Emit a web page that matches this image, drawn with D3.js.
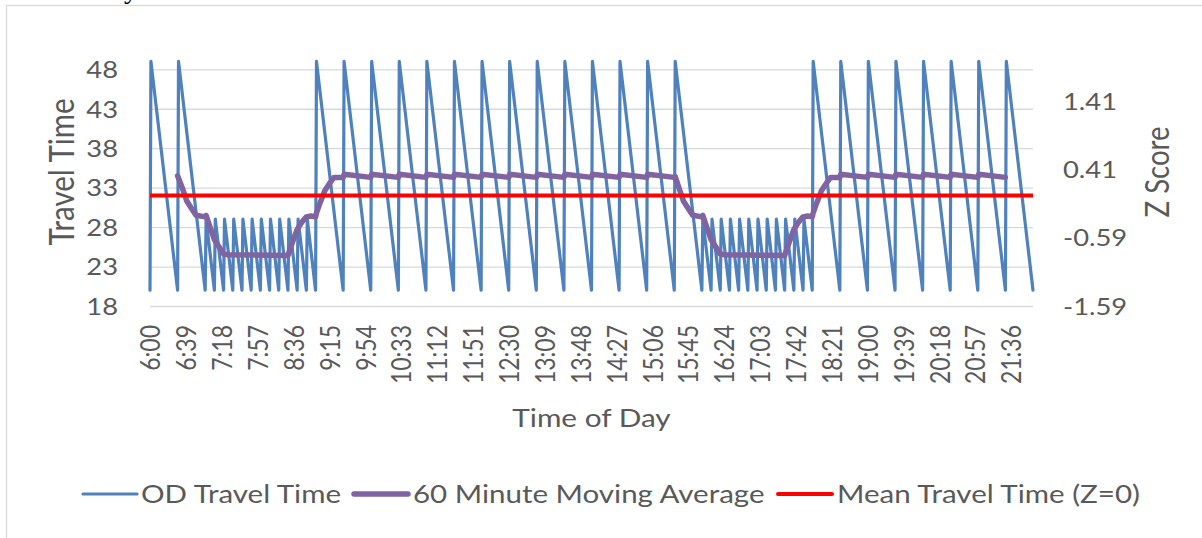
<!DOCTYPE html>
<html>
<head>
<meta charset="utf-8">
<script src="https://cdn.jsdelivr.net/npm/d3@7"></script>
<style>
  html, body { margin: 0; padding: 0; background: #ffffff; }
  svg { display: block; }
  text { font-family: Lato, "Open Sans", sans-serif; fill: #595959; }
</style>
</head>
<body>
<svg id="chart" width="1202" height="538"></svg>
<script>
// OD travel time (minutes) at each turning point of the sawtooth, by time of day
const odTimes = [
  "6:00","6:01","6:30","6:31","7:00",
  "7:01","7:10","7:11","7:20","7:21","7:30","7:31","7:40","7:41","7:50","7:51","8:00",
  "8:01","8:10","8:11","8:20","8:21","8:30","8:31","8:40","8:41","8:50","8:51","9:00",
  "9:01","9:30","9:31","10:00","10:01","10:30","10:31","11:00","11:01","11:30","11:31","12:00",
  "12:01","12:30","12:31","13:00","13:01","13:30","13:31","14:00","14:01","14:30","14:31","15:00",
  "15:01","15:30","15:31","16:00",
  "16:01","16:10","16:11","16:20","16:21","16:30","16:31","16:40","16:41","16:50","16:51","17:00",
  "17:01","17:10","17:11","17:20","17:21","17:30","17:31","17:40","17:41","17:50","17:51","18:00",
  "18:01","18:30","18:31","19:00","19:01","19:30","19:31","20:00","20:01","20:30","20:31","21:00",
  "21:01","21:30","21:31","22:00"
];
const odValues = [
  20,49,20,49,20,
  29,20,29,20,29,20,29,20,29,20,29,20,
  29,20,29,20,29,20,29,20,29,20,29,20,
  49,20,49,20,49,20,49,20,49,20,49,20,
  49,20,49,20,49,20,49,20,49,20,49,20,
  49,20,49,20,
  29,20,29,20,29,20,29,20,29,20,29,20,
  29,20,29,20,29,20,29,20,29,20,29,20,
  49,20,49,20,49,20,49,20,49,20,49,20,
  49,20,49,20
];

// 60 minute moving average of the travel time
const maTimes = [
  "6:30","6:35","6:40","6:45","6:50","7:00","7:01","7:05","7:10","7:15","7:20","7:25",
  "8:30","8:35","8:40","8:45","8:50","8:55","9:00","9:01","9:05","9:10","9:15","9:20",
  "9:30","9:31","10:00","10:01","10:30","10:31","11:00","11:01","11:30","11:31","12:00",
  "12:01","12:30","12:31","13:00","13:01","13:30","13:31","14:00","14:01","14:30","14:31",
  "15:00","15:01","15:30","15:31","15:35","15:40","15:45","15:50","16:00","16:01","16:05",
  "16:10","16:15","16:20","16:25",
  "17:30","17:35","17:40","17:45","17:50","17:55","18:00","18:01","18:05","18:10","18:15","18:20",
  "18:30","18:31","19:00","19:01","19:30","19:31","20:00","20:01","20:30","20:31","21:00",
  "21:01","21:30"
];
const maValues = [
  34.5,33.0,31.3,30.4,29.5,29.3,29.5,28.1,26.4,25.5,24.6,24.5,
  24.4,26.1,27.7,28.6,29.3,29.4,29.3,29.8,31.1,32.6,33.5,34.3,
  34.3,34.7,34.3,34.7,34.3,34.7,34.3,34.7,34.3,34.7,34.3,
  34.7,34.3,34.7,34.3,34.7,34.3,34.7,34.3,34.7,34.3,34.7,
  34.3,34.7,34.3,34.4,33.0,31.3,30.4,29.5,29.3,29.5,28.1,
  26.4,25.5,24.6,24.5,
  24.4,26.1,27.7,28.6,29.3,29.4,29.3,29.8,31.1,32.6,33.5,34.3,
  34.3,34.7,34.3,34.7,34.3,34.7,34.3,34.7,34.3,34.7,34.3,
  34.7,34.3
];

const meanTravelTime = 32;

const travelTicks = [18, 23, 28, 33, 38, 43, 48];
const zTicks = [-1.59, -0.59, 0.41, 1.41];
const timeTickLabels = [
  "6:00","6:39","7:18","7:57","8:36","9:15","9:54","10:33","11:12","11:51","12:30","13:09",
  "13:48","14:27","15:06","15:45","16:24","17:03","17:42","18:21","19:00","19:39","20:18",
  "20:57","21:36"
];
const seriesNames = ["OD Travel Time", "60 Minute Moving Average", "Mean Travel Time (Z=0)"];
const seriesColors = ["#4F81BD", "#8064A2", "#FF0000"];
const seriesWidths = [3.2, 5.5, 4];

// minutes after 6:00
const minutesOf = s => { const [h, m] = s.split(":").map(Number); return h * 60 + m - 360; };

const svg = d3.select("#chart");
const textStretch = 1.19;
const ink = "#595959";
const gridColor = "#D9D9D9";

const plot = { left: 150, right: 1033, top: 61.4, bottom: 306 };

const x = d3.scaleLinear().domain([0, 960]).range([plot.left, plot.right]);
const y = d3.scaleLinear().domain([18, 49]).range([plot.bottom, plot.top]);
const z = d3.scaleLinear().domain([-1.59, 1.99]).range([plot.bottom, plot.top]);

// tail of the caption line sitting just above the chart
svg.append("text")
  .attr("x", 124).attr("y", -2)
  .style("font-family", "'Liberation Serif', serif").style("font-size", "28px")
  .style("fill", "#000000").text("y");

// chart frame (runs past the right and bottom edges)
svg.append("rect")
  .attr("x", 6.5).attr("y", 5.5).attr("width", 1210).attr("height", 560)
  .attr("fill", "none").attr("stroke", gridColor).attr("stroke-width", 1.3);

// horizontal gridlines
const grid = svg.append("g").attr("transform", `translate(${plot.left},0)`)
  .call(d3.axisLeft(y).tickValues(travelTicks).tickSize(-(plot.right - plot.left)).tickFormat(""));
grid.select(".domain").remove();
grid.selectAll("line").attr("stroke", gridColor).attr("stroke-width", 1.3);

// left axis labels
const yAxis = svg.append("g").attr("transform", `translate(${plot.left},0)`)
  .call(d3.axisLeft(y).tickValues(travelTicks).tickSize(0).tickPadding(32));
yAxis.select(".domain").remove();
yAxis.selectAll("text")
  .attr("x", 0).attr("dy", "0.36em")
  .attr("transform", `translate(-32,0) scale(${textStretch},1)`)
  .style("font-size", "23px").style("font-family", "Lato").attr("fill", ink);

// right axis labels (Z score)
const zAxis = svg.append("g").attr("transform", `translate(${plot.right},0)`)
  .call(d3.axisRight(z).tickValues(zTicks).tickSize(0).tickFormat(d => d.toFixed(2)));
zAxis.select(".domain").remove();
zAxis.selectAll("text")
  .attr("x", 0).attr("dy", "0.36em")
  .attr("transform", `translate(30,0) scale(${textStretch},1)`)
  .style("font-size", "23px").style("font-family", "Lato").attr("fill", ink);

// time of day labels
const xAxis = svg.append("g").attr("transform", `translate(0,${plot.bottom})`)
  .call(d3.axisBottom(x).tickValues(timeTickLabels.map(minutesOf)).tickSize(0)
    .tickFormat((d, i) => timeTickLabels[i]));
xAxis.select(".domain").remove();
xAxis.selectAll("text")
  .attr("x", 0).attr("y", 0).attr("dy", "0.36em")
  .attr("text-anchor", "end")
  .attr("transform", `translate(0,19) scale(${textStretch},1) rotate(-90)`)
  .style("font-size", "23px").style("font-family", "Lato").attr("fill", ink);

// axis titles
svg.append("text")
  .attr("transform", `translate(61,172) scale(${textStretch},1) rotate(-90)`)
  .attr("text-anchor", "middle").attr("dy", "0.36em")
  .style("font-size", "29.5px").text("Travel Time");
svg.append("text")
  .attr("transform", `translate(1157,172) scale(${textStretch},1) rotate(-90)`)
  .attr("text-anchor", "middle").attr("dy", "0.36em")
  .style("font-size", "27.5px").text("Z Score");
svg.append("text")
  .attr("transform", `translate(${(plot.left + plot.right) / 2},427) scale(${textStretch},1)`)
  .attr("text-anchor", "middle")
  .style("font-size", "25px").text("Time of Day");

// series
const odLine = d3.line().x(d => x(minutesOf(d[0]))).y(d => y(d[1]));
svg.append("path")
  .datum(odTimes.map((t, i) => [t, odValues[i]]))
  .attr("d", odLine)
  .attr("fill", "none").attr("stroke", seriesColors[0]).attr("stroke-width", seriesWidths[0])
  .attr("stroke-linejoin", "round").attr("stroke-linecap", "round");

svg.append("path")
  .datum(maTimes.map((t, i) => [t, maValues[i]]))
  .attr("d", odLine)
  .attr("fill", "none").attr("stroke", seriesColors[1]).attr("stroke-width", seriesWidths[1])
  .attr("stroke-linejoin", "round").attr("stroke-linecap", "round");

svg.append("line")
  .attr("x1", x(0)).attr("x2", x(960))
  .attr("y1", y(meanTravelTime)).attr("y2", y(meanTravelTime))
  .attr("stroke", seriesColors[2]).attr("stroke-width", seriesWidths[2]);

// legend
const legendItems = [
  { lineX: 83, textX: 141 },
  { lineX: 354, textX: 413 },
  { lineX: 778, textX: 837 }
];
const legendY = 494;
const legend = svg.append("g");
seriesNames.forEach((name, i) => {
  legend.append("line")
    .attr("x1", legendItems[i].lineX).attr("x2", legendItems[i].lineX + 54)
    .attr("y1", legendY).attr("y2", legendY)
    .attr("stroke", seriesColors[i]).attr("stroke-width", seriesWidths[i])
    .attr("stroke-linecap", "round");
  legend.append("text")
    .attr("transform", `translate(${legendItems[i].textX},${legendY}) scale(${textStretch},1)`)
    .attr("dy", "0.36em")
    .style("font-size", "24.8px").text(name);
});
</script>
</body>
</html>
